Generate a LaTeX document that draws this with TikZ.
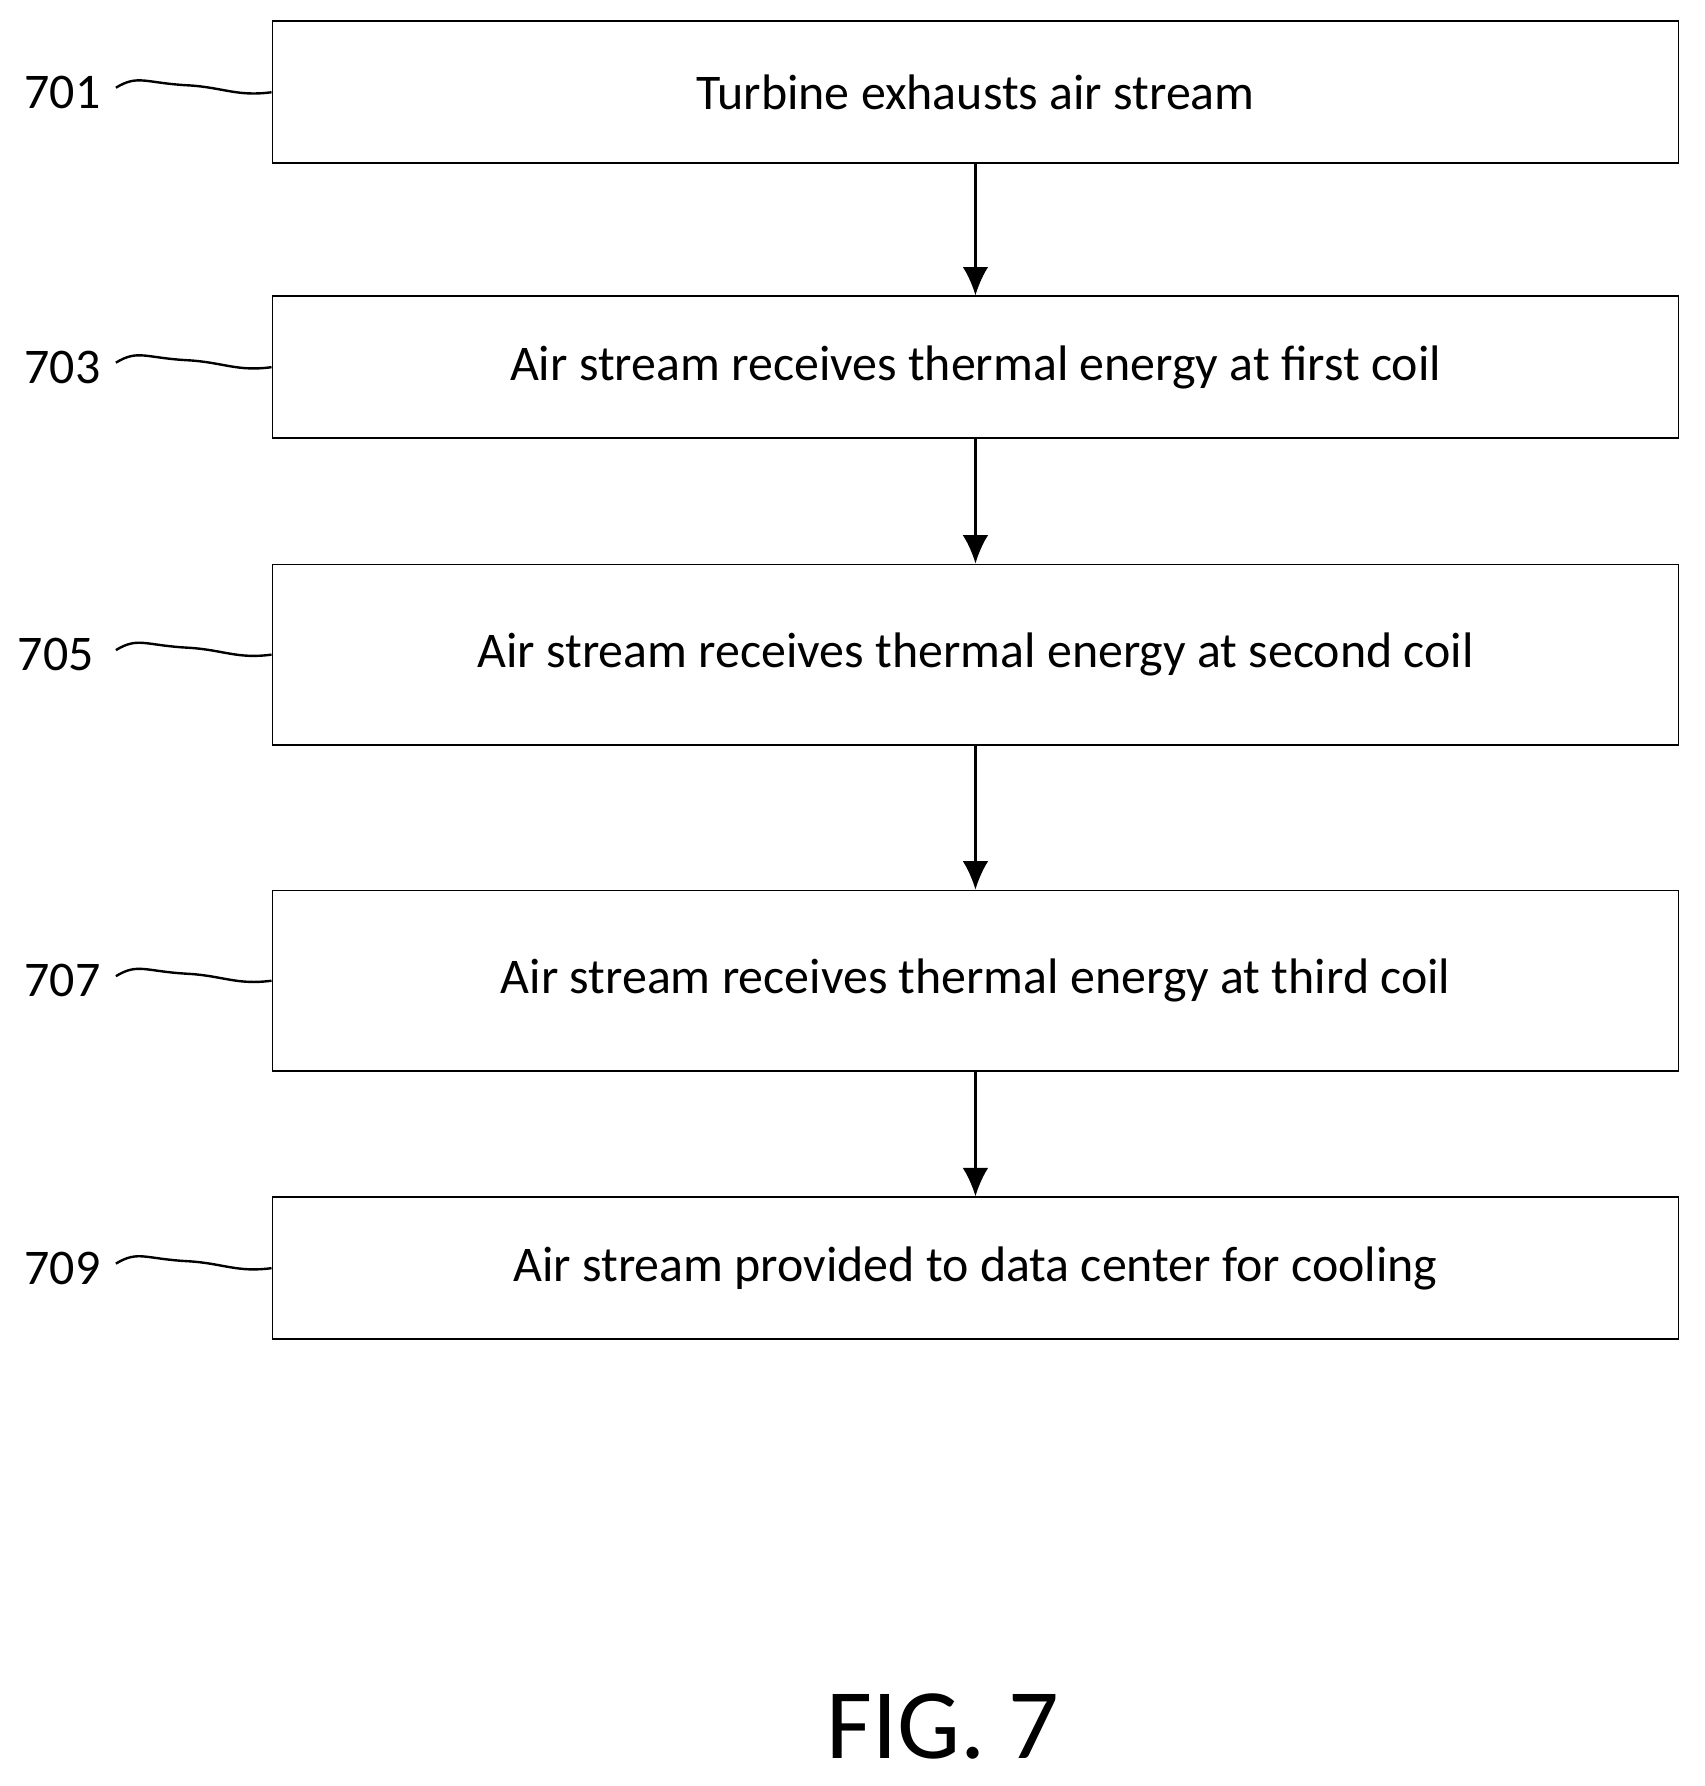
\documentclass[tikz,border=0pt]{standalone}
\usepackage{fontspec}
\setmainfont{Carlito}
\usetikzlibrary{positioning,arrows.meta}
\tikzset{
  stepbox/.style={draw,thick,minimum width=24.76cm,anchor=north west,inner sep=0pt},
  num/.style={font=\fontsize{25}{30}\selectfont},
  flow/.style={very thick,-{Latex[length=0.5cm,width=0.45cm]}}
}
\begin{document}
\begin{tikzpicture}[x=0.02cm,y=-0.02cm,font=\fontsize{25}{30}\selectfont]
\useasboundingbox (0,0) rectangle (1500,1572);
% steps
\node[stepbox,minimum height=2.5cm] (s701) at (239,18) {Turbine exhausts air stream};
\node[stepbox,minimum height=2.5cm] (s703) at (239,260) {Air stream receives thermal energy at first coil};
\node[stepbox,minimum height=3.18cm] (s705) at (239,496) {Air stream receives thermal energy at second coil};
\node[stepbox,minimum height=3.18cm] (s707) at (239,783) {Air stream receives thermal energy at third coil};
\node[stepbox,minimum height=2.5cm] (s709) at (239,1053) {Air stream provided to data center for cooling};
% reference numbers
\foreach \s/\x in {701/55,703/55,705/49,707/55,709/55}{
  \node[num] (n\s) at (\x,0 |- s\s.west) {\s};
  \draw[very thick] (s\s.west) ++(-137,-4) .. controls +(20,-12) and +(-40,-2) .. ++(65,-2)
    .. controls +(30,2) and +(-30,4) .. (s\s.west);
}
% arrows
\draw[flow] (s701) -- (s703);
\draw[flow] (s703) -- (s705);
\draw[flow] (s705) -- (s707);
\draw[flow] (s707) -- (s709);
\node[font=\fontsize{50}{60}\selectfont] (fig) at (830,1520) {FIG. 7};
\end{tikzpicture}
\end{document}
